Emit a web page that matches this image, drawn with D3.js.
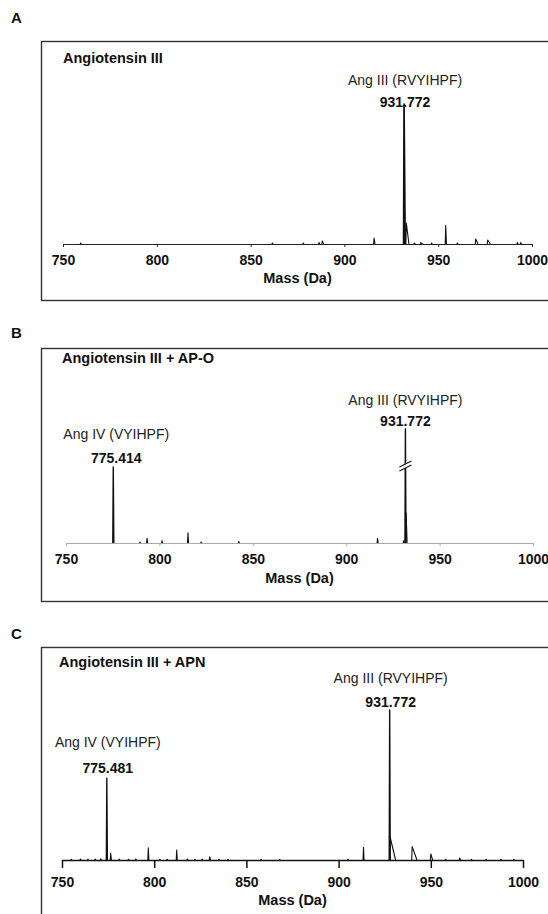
<!DOCTYPE html>
<html>
<head>
<meta charset="utf-8">
<script src="https://cdn.jsdelivr.net/npm/d3@7"></script>
<style>
body { margin: 0; background: #fff; }
text { font-family: "Liberation Sans", Arial, Helvetica, sans-serif; fill: #111; }
</style>
</head>
<body>
<div id="chart"></div>
<script>
var width = 548,
  height = 914;

var massDomain = [750, 1000];
var massTicks = [750, 800, 850, 900, 950, 1000];

// peaks: [mass (Da), relative intensity, peak width (Da)]
var peaksA = [
  [759.4, 0.7, 0.4], [861.6, 0.7, 0.4], [878.1, 0.7, 0.4], [886.5, 1.1, 0.4], [888.2, 2.1, 0.8],
  [915.8, 4.3, 0.5], [931.8, 100, 0.6], [933.0, 15, 1.4], [937.3, 0.7, 0.5], [940.7, 1, 1],
  [946.5, 0.7, 0.4], [954.0, 13.2, 0.4], [960.2, 0.7, 0.4], [970.0, 3.6, 1.2], [976.4, 2.9, 1.4],
  [992.2, 1, 0.4], [994.0, 1, 0.4]
];

var peaksB = [
  [775.3, 100, 0.3], [789.6, 1.3, 0.3], [793.4, 6.2, 0.3], [801.4, 3, 0.3], [815.3, 13.5, 0.3],
  [822.3, 1.3, 0.3], [842.5, 2, 0.3], [916.8, 6.2, 0.3], [930.7, 3, 0.3], [931.7, 150, 0.3],
  [932.1, 39.5, 0.5]
];

var peaksC = [
  [755, 0.5, 0.4], [760, 0.6, 0.4], [764, 0.5, 0.4], [768, 0.7, 0.4], [771, 0.8, 0.4],
  [774.3, 54.5, 0.3], [776.4, 4.5, 0.4], [781, 0.6, 0.4], [786, 0.5, 0.4], [790, 0.6, 0.4],
  [796.8, 8.2, 0.3], [803, 0.5, 0.4], [807, 0.5, 0.4], [812.2, 6.7, 0.3], [818, 0.6, 0.4],
  [822, 0.5, 0.4], [826, 0.6, 0.4], [830.1, 2.2, 0.4], [835, 0.5, 0.4], [840, 0.4, 0.4],
  [858, 0.4, 0.4], [868, 0.4, 0.4], [905, 0.5, 0.4], [913.5, 8.5, 0.3], [927.7, 100, 0.3],
  [927.9, 15.5, 3.0], [939.9, 8.9, 2.6], [950.0, 4, 1.0], [958, 0.5, 0.4], [965.7, 1.3, 0.5],
  [972, 0.4, 0.4], [980, 0.4, 0.4], [988, 0.4, 0.4], [995, 0.4, 0.4]
];

// annotated peaks: [name, value text, mass]
var labelsA = [["Ang III (RVYIHPF)", "931.772", 931.8]];
var labelsB = [["Ang IV (VYIHPF)", "775.414", 775.3], ["Ang III (RVYIHPF)", "931.772", 931.7]];
var labelsC = [["Ang IV (VYIHPF)", "775.481", 774.3], ["Ang III (RVYIHPF)", "931.772", 927.7]];

var panels = [
  { letter: "A", title: "Angiotensin III", peaks: peaksA, labels: labelsA,
    letterY: 23, boxTop: 41, boxBottom: 300, titleX: 63, titleY: 63,
    x0: 63, x1: 532, baseY: 244, topY: 104, tick: 3, axisColor: "#222", axisWidth: 1,
    tickY: 265, massY: 283, mainWidth: 1.7,
    labelPos: [{ dx: 1, nameY: 85, valY: 107 }] },
  { letter: "B", title: "Angiotensin III + AP-O", peaks: peaksB, labels: labelsB,
    letterY: 338, boxTop: 348, boxBottom: 601, titleX: 62, titleY: 363,
    x0: 66, x1: 533, baseY: 543, topY: 467, tick: 3, axisColor: "#aaa", axisWidth: 1,
    tickY: 564, massY: 583, breakAt: 96, mainWidth: 1.4,
    labelPos: [{ dx: 3, nameY: 439, valY: 463 }, { dx: 0, nameY: 405, valY: 426 }] },
  { letter: "C", title: "Angiotensin III + APN", peaks: peaksC, labels: labelsC,
    letterY: 639, boxTop: 647, boxBottom: 940, titleX: 59, titleY: 667,
    x0: 62, x1: 523, baseY: 860, topY: 710, tick: 8, axisColor: "#111", axisWidth: 1.5,
    tickY: 887, massY: 905, mainWidth: 1.4,
    labelPos: [{ dx: 1, nameY: 747, valY: 773 }, { dx: 1, nameY: 683, valY: 707 }] }
];

var svg = d3.select("#chart").append("svg")
  .attr("width", width)
  .attr("height", height);

var peakLine = d3.line();

panels.forEach(function(p) {
  var g = svg.append("g");

  var x = d3.scaleLinear().domain(massDomain).range([p.x0, p.x1]);
  var y = d3.scaleLinear().domain([0, 100]).range([p.baseY, p.topY]);

  g.append("text")
    .attr("x", 11)
    .attr("y", p.letterY)
    .style("font-size", "15px")
    .style("font-weight", "bold")
    .text(p.letter);

  g.append("rect")
    .attr("x", 41.5)
    .attr("y", p.boxTop + 0.5)
    .attr("width", 540)
    .attr("height", p.boxBottom - p.boxTop)
    .attr("fill", "none")
    .attr("stroke", "#333")
    .attr("stroke-width", 1.4);

  g.append("text")
    .attr("x", p.titleX)
    .attr("y", p.titleY)
    .style("font-size", "14.5px")
    .style("font-weight", "bold")
    .text(p.title);

  // axis
  var fs = 14;
  var axis = d3.axisBottom(x)
    .tickValues(massTicks)
    .tickFormat(d3.format("d"))
    .tickSize(p.tick)
    .tickSizeOuter(0)
    .tickPadding(p.tickY - p.baseY - p.tick - 0.71 * fs);

  var ax = g.append("g")
    .attr("transform", "translate(0," + p.baseY + ")")
    .call(axis);
  ax.select(".domain").attr("stroke", p.axisColor).attr("stroke-width", p.axisWidth);
  ax.selectAll(".tick line").attr("stroke", p.axisColor).attr("stroke-width", p.axisWidth);
  ax.selectAll(".tick text")
    .attr("fill", "#111")
    .style("font-family", "\"Liberation Sans\", Arial, sans-serif")
    .style("font-size", fs + "px")
    .style("font-weight", "bold");
  ax.attr("font-family", null).attr("font-size", null);

  g.append("text")
    .attr("x", (p.x0 + p.x1) / 2)
    .attr("y", p.massY)
    .attr("text-anchor", "middle")
    .style("font-size", "14.5px")
    .style("font-weight", "bold")
    .text("Mass (Da)");

  // spectrum peaks
  g.selectAll("path.peak")
    .data(p.peaks)
    .enter().append("path")
    .attr("class", "peak")
    .attr("fill", "none")
    .attr("stroke", "#111")
    .attr("stroke-width", function(d) { return d[1] > 50 ? p.mainWidth : 1.1; })
    .attr("stroke-linejoin", "round")
    .attr("d", function(d) {
      return peakLine([
        [x(d[0] - 0.25), y(0)],
        [x(d[0]), y(d[1])],
        [x(d[0] + d[2]), y(0)]
      ]);
    });

  // axis break on the off-scale peak
  if (p.breakAt) {
    var tall = p.peaks.filter(function(d) { return d[1] > 100; })[0];
    var bx = x(tall[0]), by = y(p.breakAt);
    g.append("path")
      .attr("d", "M" + (bx - 6) + "," + (by + 1) + "L" + (bx + 6) + "," + (by - 5)
        + "L" + (bx + 6) + "," + (by - 9) + "L" + (bx - 6) + "," + (by - 3) + "Z")
      .attr("fill", "#fff");
    [0, -4].forEach(function(o) {
      g.append("line")
        .attr("x1", bx - 6).attr("y1", by + 1 + o)
        .attr("x2", bx + 6).attr("y2", by - 5 + o)
        .attr("stroke", "#111")
        .attr("stroke-width", 1.1);
    });
  }

  // peak annotations
  p.labels.forEach(function(l, i) {
    var pos = p.labelPos[i];
    g.append("text")
      .attr("x", x(l[2]) + pos.dx)
      .attr("y", pos.nameY)
      .attr("text-anchor", "middle")
      .style("font-size", "14px")
      .style("fill", "#222")
      .text(l[0]);
    g.append("text")
      .attr("x", x(l[2]) + pos.dx)
      .attr("y", pos.valY)
      .attr("text-anchor", "middle")
      .style("font-size", "14px")
      .style("font-weight", "bold")
      .text(l[1]);
  });
});
</script>
</body>
</html>
